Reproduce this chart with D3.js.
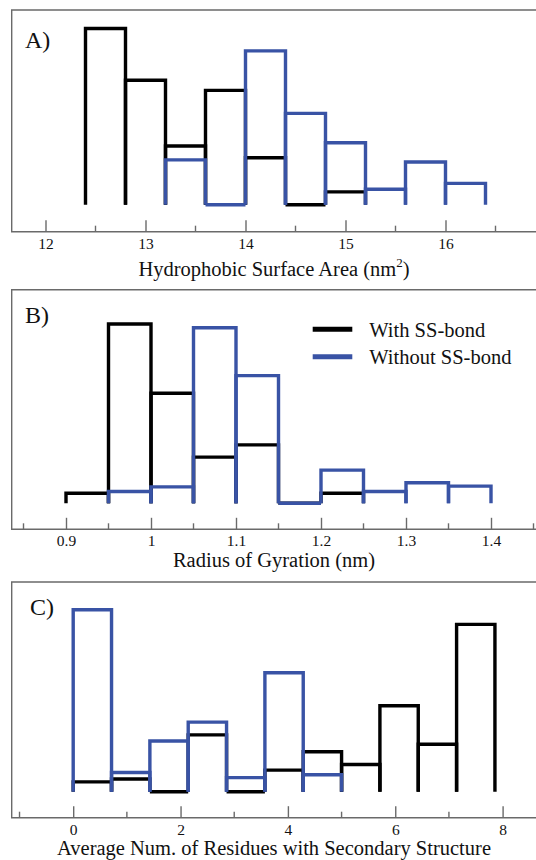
<!DOCTYPE html>
<html>
<head>
<meta charset="utf-8">
<script src="https://cdn.jsdelivr.net/npm/d3@7"></script>
<style>
body { margin: 0; background: #fff; }
svg { display: block; }
text { font-family: "Liberation Serif", "DejaVu Serif", serif; fill: #111; }
</style>
</head>
<body>
<div id="chart"></div>
<script>

// panel A: hydrophobic surface area (nm^2), bins of 0.4
var binsA = [12.4, 12.8, 13.2, 13.6, 14.0, 14.4, 14.8, 15.2, 15.6, 16.0, 16.4];
var withA = [0.330, 0.233, 0.110, 0.214, 0.088, 0.000, 0.024];        // starts at 12.4
var withoutA = [0.084, 0.000, 0.288, 0.171, 0.116, 0.029, 0.080, 0.040]; // starts at 13.2
var ticksA = [12, 13, 14, 15, 16];

// panel B: radius of gyration (nm), bins of 0.05
var binsB = [0.90, 0.95, 1.00, 1.05, 1.10, 1.15, 1.20, 1.25, 1.30, 1.35, 1.40];
var withB = [0.024, 0.427, 0.262, 0.110, 0.139, 0.000, 0.024];               // starts at 0.90
var withoutB = [0.028, 0.039, 0.418, 0.304, 0.000, 0.079, 0.028, 0.049, 0.041]; // starts at 0.95
var ticksB = [0.9, 1, 1.1, 1.2, 1.3, 1.4];

// panel C: residues with secondary structure, bins of 5/7
var binsC = [0, 5/7, 10/7, 15/7, 20/7, 25/7, 30/7, 35/7, 40/7, 45/7, 50/7, 55/7];
var withC = [0.021, 0.027, 0.000, 0.121, 0.000, 0.046, 0.085, 0.058, 0.183, 0.101, 0.356];
var withoutC = [0.387, 0.041, 0.108, 0.148, 0.030, 0.253, 0.036];
var ticksC = [0, 2, 4, 6, 8];

var seriesNames = ["With SS-bond", "Without SS-bond"];
var colors = { with: "#000000", without: "#3953a5" };

var totalWidth = 536, totalHeight = 860;

var svg = d3.select("#chart").append("svg")
	.attr("width", totalWidth)
	.attr("height", totalHeight);

var panels = [
	{ label: "A)", labelX: 25, labelY: 48, top: 10, axisY: 231.7, base: 204.7, k: 534,
	  domain: [12, 16], range: [45.5, 445.5], ticks: ticksA, minor: 0.5, fmt: d3.format("d"),
	  bins: binsA, black: withA, blackStart: 0, blue: withoutA, blueStart: 2,
	  title: "Hydrophobic Surface Area (nm", sup: "2", titleY: 276 },
	{ label: "B)", labelX: 25, labelY: 323, top: 289.7, axisY: 529.3, base: 503.3, k: 420,
	  domain: [0.9, 1.4], range: [66, 491], ticks: ticksB, minor: 0.05, fmt: function (d) { return d3.format("")(d); },
	  bins: binsB, black: withB, blackStart: 0, blue: withoutB, blueStart: 1,
	  title: "Radius of Gyration (nm)", titleY: 567 },
	{ label: "C)", labelX: 30, labelY: 615, top: 582, axisY: 817.7, base: 791.7, k: 470,
	  domain: [0, 8], range: [73.2, 502.6], ticks: ticksC, minor: 1, fmt: d3.format("d"),
	  bins: binsC, black: withC, blackStart: 0, blue: withoutC, blueStart: 0,
	  title: "Average Num. of Residues with Secondary Structure", titleY: 855 }
];

panels.forEach(function (p) {

	var xScale = d3.scaleLinear().domain(p.domain).range(p.range);
	var yScale = d3.scaleLinear().domain([0, 1]).range([p.base, p.base - p.k]);

	var g = svg.append("g");

	// frame (right side runs off the picture)
	g.append("path")
		.attr("d", "M" + (totalWidth + 5) + "," + p.top + "H11.7V" + p.axisY + "H" + (totalWidth + 5))
		.attr("fill", "none")
		.attr("stroke", "#6a6a6a")
		.attr("stroke-width", 1.4);

	// ticks, major and minor, pointing inwards
	var x0 = xScale.invert(11.7), x1 = xScale.invert(totalWidth);
	var minorTicks = d3.range(Math.ceil(x0 / p.minor) * p.minor, x1, p.minor)
		.filter(function (v) {
			return !p.ticks.some(function (t) { return Math.abs(t - v) < 1e-6; });
		});

	var xAxis = d3.axisBottom(xScale)
		.tickValues(p.ticks)
		.tickSizeInner(-11.5)
		.tickSizeOuter(0)
		.tickPadding(16)
		.tickFormat(p.fmt);

	var axisGroup = g.append("g")
		.attr("transform", "translate(0," + p.axisY + ")")
		.call(xAxis);
	axisGroup.select(".domain").remove();
	axisGroup.selectAll(".tick line").attr("stroke", "#6a6a6a").attr("stroke-width", 1.4);
	axisGroup.selectAll(".tick text")
		.attr("y", 17)
		.attr("dy", 0)
		.style("font-family", "'Liberation Serif', serif")
		.style("font-size", "15.5px")
		.attr("fill", "#111");

	g.append("g").selectAll("line")
		.data(minorTicks)
		.enter()
		.append("line")
		.attr("x1", function (d) { return xScale(d); })
		.attr("x2", function (d) { return xScale(d); })
		.attr("y1", p.axisY)
		.attr("y2", p.axisY - 6)
		.attr("stroke", "#6a6a6a")
		.attr("stroke-width", 1.4);

	// histogram bins: each bin drawn as an open box standing on the baseline
	function binPath(start, d, i) {
		var a = xScale(p.bins[start + i]), b = xScale(p.bins[start + i + 1]);
		var y = yScale(d), y0 = yScale(0);
		return "M" + a + "," + y0 + "V" + y + "H" + b + "V" + y0;
	}

	[["black", colors.with, p.blackStart], ["blue", colors.without, p.blueStart]].forEach(function (s) {
		g.append("g").selectAll("path")
			.data(p[s[0]])
			.enter()
			.append("path")
			.attr("d", function (d, i) { return binPath(s[2], d, i); })
			.attr("fill", "none")
			.attr("stroke", s[1])
			.attr("stroke-width", 3.4)
			.attr("stroke-linejoin", "miter");
	});

	g.append("text")
		.attr("x", p.labelX)
		.attr("y", p.labelY)
		.style("font-size", "24px")
		.text(p.label);

	var title = g.append("text")
		.attr("x", 274)
		.attr("y", p.titleY)
		.attr("text-anchor", "middle")
		.style("font-size", "20.5px")
		.text(p.title);
	if (p.sup) {
		title.append("tspan").attr("dy", -9).style("font-size", "13px").text(p.sup);
		title.append("tspan").attr("dy", 9).text(")");
	}
});

// legend in panel B
var legend = svg.append("g");
legend.selectAll("line")
	.data(seriesNames)
	.enter()
	.append("line")
	.attr("x1", 312.7)
	.attr("x2", 352.3)
	.attr("y1", function (d, i) { return 329.3 + i * 27.4; })
	.attr("y2", function (d, i) { return 329.3 + i * 27.4; })
	.attr("stroke", function (d, i) { return i ? colors.without : colors.with; })
	.attr("stroke-width", 5);

legend.selectAll("text")
	.data(seriesNames)
	.enter()
	.append("text")
	.attr("x", 369.3)
	.attr("y", function (d, i) { return 336.5 + i * 27.4; })
	.style("font-size", "20.5px")
	.text(function (d) { return d; });

</script>
</body>
</html>
